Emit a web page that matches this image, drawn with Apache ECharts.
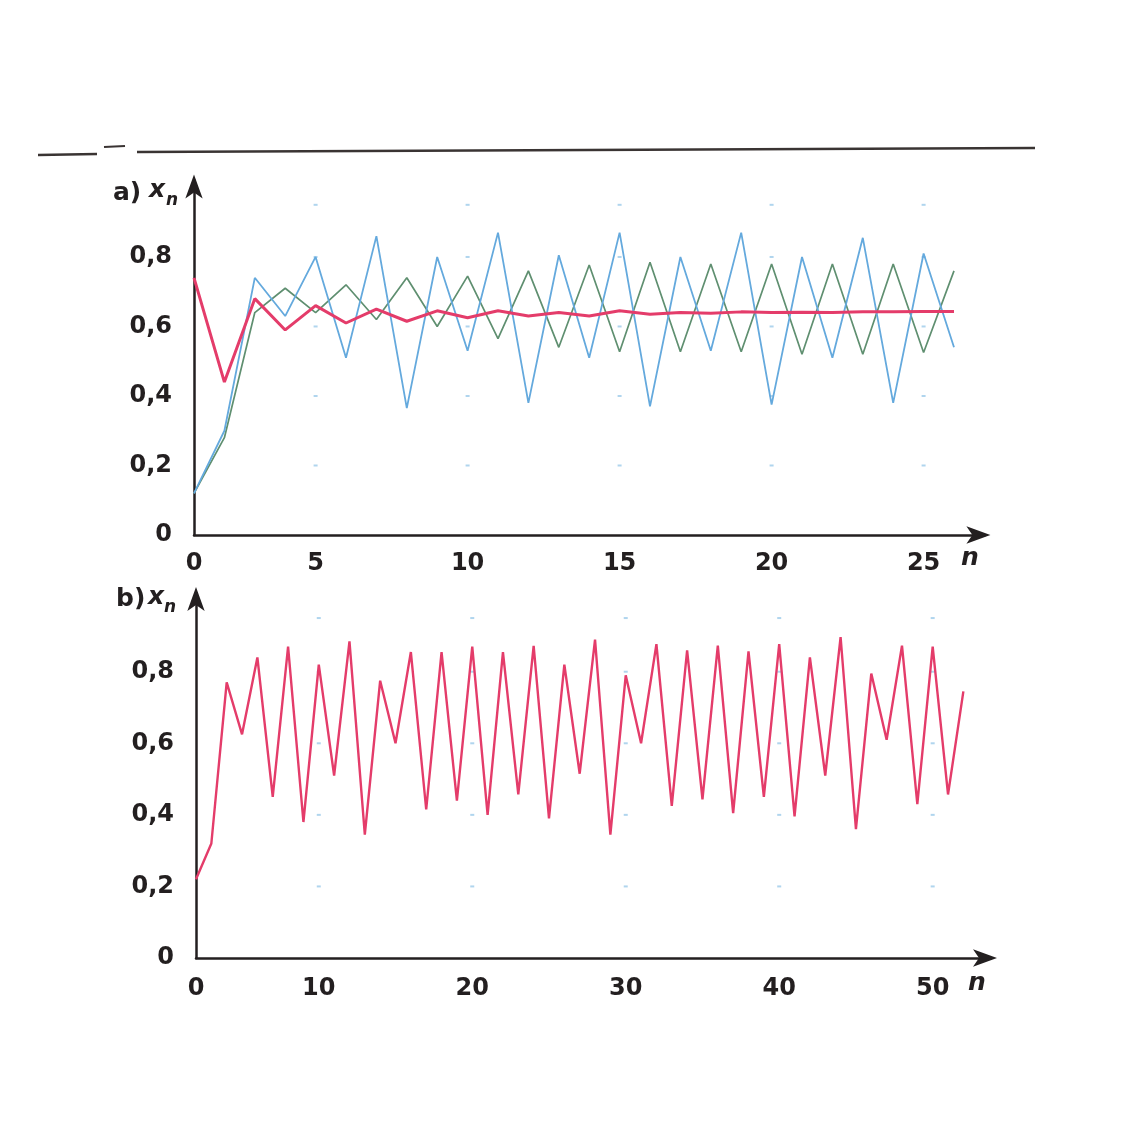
<!DOCTYPE html>
<html>
<head>
<meta charset="utf-8">
<script src="https://cdn.jsdelivr.net/npm/echarts@6/dist/echarts.min.js"></script>
<style>
html,body{margin:0;padding:0;background:#fff;}
#c{width:1140px;height:1131px;}
</style>
</head>
<body>
<div id="c"></div>
<script>
// ---------- data ----------
// Panel a: first iterate sits on the vertical axis
const A_N0 = 1;
const A_RED   = [0.74,0.44,0.68,0.59,0.66,0.61,0.65,0.615,0.645,0.625,0.645,0.63,0.64,0.63,0.645,0.635,0.64,0.638,0.642,0.64,0.641,0.64,0.642,0.642,0.643,0.643];
const A_GREEN = [0.12,0.28,0.64,0.71,0.64,0.72,0.62,0.74,0.60,0.745,0.565,0.76,0.54,0.777,0.527,0.785,0.527,0.78,0.527,0.78,0.52,0.78,0.52,0.78,0.525,0.76];
const A_BLUE  = [0.12,0.30,0.74,0.63,0.80,0.51,0.86,0.365,0.80,0.53,0.87,0.38,0.805,0.51,0.87,0.37,0.80,0.53,0.87,0.375,0.80,0.51,0.855,0.38,0.81,0.54];
const A_TICK_POS = [1,5,10,15,20,25];
const A_TICK_TXT = ['0','5','10','15','20','25'];
const A_DOT_N = [5,10,15,20,25];

// Panel b
const B_N0 = 2;
const B_RED = [0.22,0.32,0.77,0.625,0.84,0.45,0.87,0.38,0.82,0.51,0.885,0.345,0.775,0.60,0.855,0.415,0.855,0.44,0.87,0.40,0.855,0.457,0.872,0.39,0.82,0.515,0.89,0.345,0.79,0.60,0.877,0.425,0.86,0.443,0.873,0.405,0.857,0.45,0.877,0.396,0.84,0.51,0.897,0.36,0.795,0.61,0.873,0.43,0.87,0.457,0.745];
const B_TICK_POS = [2,10,20,30,40,50];
const B_TICK_TXT = ['0','10','20','30','40','50'];
const B_DOT_N = [10,20,30,40,50];

const Y_TICK_POS = [0,0.2,0.4,0.6,0.8];
const Y_TICK_TXT = ['0','0,2','0,4','0,6','0,8'];
const DOT_Y = [0.2,0.4,0.6,0.8,0.95];

// ---------- helpers ----------
function pairs(n0, arr){ return arr.map((v,i)=>[n0+i, v]); }
function dots(ns, ys){ const out=[]; ns.forEach(n=>ys.forEach(y=>out.push([n,y]))); return out; }
function lookup(pos, txt){
  return function(v){
    let best=0, d=Infinity;
    pos.forEach((p,i)=>{ const dd=Math.abs(p-v); if(dd<d){d=dd;best=i;} });
    return d<1e-6 ? txt[best] : '';
  };
}

const FONT = 'DejaVu Sans';
const INK = '#231f20';
const RED = '#e43c6a';
const GREEN = '#5f8f70';
const BLUE = '#64a9dd';
const DOT = '#9ccbea';

function xAxisDef(idx, min, max, pos, txt, margin){
  return {
    type:'value', gridIndex:idx, min:min, max:max,
    axisLine:{show:true, onZero:false, symbol:['none','arrow'], symbolSize:[13,24], symbolOffset:[0,6],
      lineStyle:{color:INK, width:2.5}},
    axisTick:{show:false},
    splitLine:{show:false},
    axisLabel:{customValues:pos, formatter:lookup(pos,txt), color:INK, fontFamily:FONT,
      fontWeight:'bold', fontSize:24, margin:margin}
  };
}
function yAxisDef(idx){
  return {
    type:'value', gridIndex:idx, min:0, max:1.02,
    axisLine:{show:true, onZero:false, symbol:['none','arrow'], symbolSize:[13,24], symbolOffset:[0,6],
      lineStyle:{color:INK, width:2.5}},
    axisTick:{show:false},
    splitLine:{show:false},
    axisLabel:{customValues:Y_TICK_POS, formatter:lookup(Y_TICK_POS,Y_TICK_TXT), color:INK,
      fontFamily:FONT, fontWeight:'bold', fontSize:24, margin:22}
  };
}
function lineSeries(xi, data, color, width){
  return {type:'line', xAxisIndex:xi, yAxisIndex:xi, data:data, showSymbol:false, symbol:'none',
    lineStyle:{color:color, width:width}, z:3, animation:false};
}

const option = {
  backgroundColor:'#fff',
  animation:false,
  grid:[
    {left:194, top:180.5, width:790.4, height:354.5},
    {left:196, top:593, width:795, height:365}
  ],
  xAxis:[
    xAxisDef(0, 1, 27, A_TICK_POS, A_TICK_TXT, 17),
    xAxisDef(1, 2, 53.8, B_TICK_POS, B_TICK_TXT, 19)
  ],
  yAxis:[ yAxisDef(0), yAxisDef(1) ],
  series:[
    {type:'scatter', xAxisIndex:0, yAxisIndex:0, data:dots(A_DOT_N, DOT_Y), symbol:'rect', symbolSize:[4,2],
      itemStyle:{color:DOT}, z:1, silent:true},
    {type:'scatter', xAxisIndex:1, yAxisIndex:1, data:dots(B_DOT_N, DOT_Y), symbol:'rect', symbolSize:[4,2],
      itemStyle:{color:DOT}, z:1, silent:true},
    lineSeries(0, pairs(A_N0, A_GREEN), GREEN, 1.7),
    lineSeries(0, pairs(A_N0, A_BLUE), BLUE, 1.8),
    lineSeries(0, pairs(A_N0, A_RED), RED, 3),
    lineSeries(1, pairs(B_N0, B_RED), RED, 2.4)
  ],
  graphic:[
    // top rule of the page
    {type:'line', shape:{x1:38,y1:155,x2:97,y2:154}, style:{stroke:'#3a3433', lineWidth:2.5}},
    {type:'line', shape:{x1:104,y1:147,x2:125,y2:146}, style:{stroke:'#3a3433', lineWidth:2}},
    {type:'line', shape:{x1:137,y1:152,x2:1035,y2:148}, style:{stroke:'#3a3433', lineWidth:2.5}},
    // panel a label
    {type:'text', left:113, top:181, style:{text:'a)', fill:INK, font:'bold 25px "DejaVu Sans"'}},
    {type:'text', left:149, top:178, style:{text:'x', fill:INK, font:'italic bold 25px "DejaVu Sans"'}},
    {type:'text', left:166, top:192, style:{text:'n', fill:INK, font:'italic bold 17px "DejaVu Sans"'}},
    {type:'text', left:961, top:546, style:{text:'n', fill:INK, font:'italic bold 25px "DejaVu Sans"'}},
    // panel b label
    {type:'text', left:116, top:587, style:{text:'b)', fill:INK, font:'bold 25px "DejaVu Sans"'}},
    {type:'text', left:148, top:585, style:{text:'x', fill:INK, font:'italic bold 25px "DejaVu Sans"'}},
    {type:'text', left:164, top:599, style:{text:'n', fill:INK, font:'italic bold 17px "DejaVu Sans"'}},
    {type:'text', left:968, top:971, style:{text:'n', fill:INK, font:'italic bold 25px "DejaVu Sans"'}}
  ]
};

const chart = echarts.init(document.getElementById('c'), null, {renderer:'canvas'});
chart.setOption(option);
</script>
</body>
</html>
